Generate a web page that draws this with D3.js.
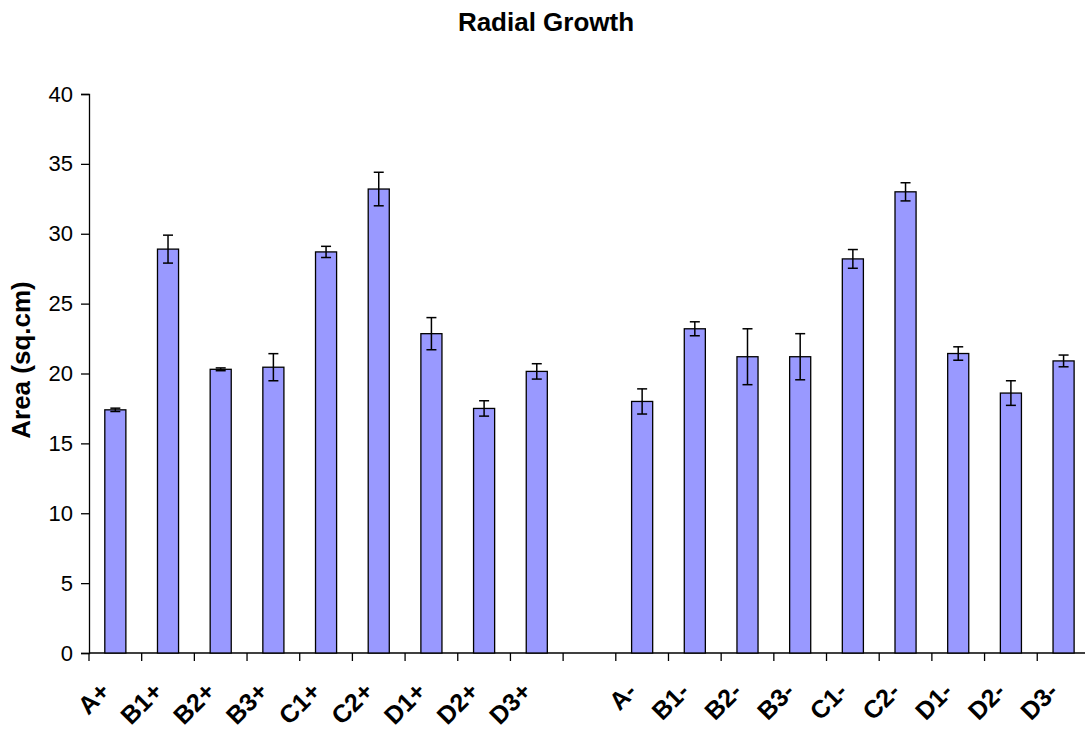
<!DOCTYPE html>
<html>
<head>
<meta charset="utf-8">
<script src="https://cdn.jsdelivr.net/npm/d3@7"></script>
<style>
  html, body { margin: 0; padding: 0; background: #fff; }
  svg { display: block; }
  text { font-family: "Liberation Sans", Arial, sans-serif; fill: #000; }
</style>
</head>
<body>
<svg id="chart" width="1085" height="732"></svg>
<script>
const categories = ["A+","B1+","B2+","B3+","C1+","C2+","D1+","D2+","D3+","","A-","B1-","B2-","B3-","C1-","C2-","D1-","D2-","D3-"];
const values     = [17.4, 28.9, 20.3, 20.45, 28.7, 33.2, 22.85, 17.5, 20.15, null, 18.0, 23.2, 21.2, 21.2, 28.2, 33.0, 21.43, 18.6, 20.9];
const errors     = [0.12, 1.0, 0.1, 0.97, 0.4, 1.2, 1.15, 0.55, 0.55, null, 0.9, 0.5, 2.0, 1.65, 0.67, 0.65, 0.48, 0.88, 0.42];
const yTicks     = [0, 5, 10, 15, 20, 25, 30, 35, 40];
const title = "Radial Growth";
const yLabel = "Area (sq.cm)";

const svg = d3.select("#chart");
const pLeft = 89, pRight = 89 + 19 * 52.68, pTop = 94, pBottom = 653;

const x = d3.scaleBand().domain(d3.range(categories.length)).range([pLeft, pRight]).paddingInner(0).paddingOuter(0);
const y = d3.scaleLinear().domain([0, 40]).range([pBottom, pTop]);
const bw = x.bandwidth() * 0.4;

// title
svg.append("text").attr("x", 546).attr("y", 31).attr("text-anchor", "middle")
  .style("font-size", "26px").style("font-weight", "bold").text(title);

// y axis
const yAxis = d3.axisLeft(y).tickValues(yTicks).tickSize(8).tickPadding(8).tickFormat(d3.format("d"));
const gy = svg.append("g").attr("transform", `translate(${pLeft},0)`).call(yAxis);
gy.select(".domain").attr("stroke", "#000").attr("stroke-width", 1.3);
gy.selectAll(".tick line").attr("stroke", "#000").attr("stroke-width", 1.3);
gy.selectAll(".tick text").style("font-size", "22px").style("font-family", "'Liberation Sans', Arial, sans-serif").attr("fill", "#000");

// y label
svg.append("text").attr("transform", `translate(30,360) rotate(-90)`)
  .attr("text-anchor", "middle").style("font-size", "26px").style("font-weight", "bold").text(yLabel);

// x axis line
svg.append("line").attr("x1", pLeft).attr("x2", pRight).attr("y1", pBottom).attr("y2", pBottom)
  .attr("stroke", "#000").attr("stroke-width", 1.3);
// x ticks at band boundaries
const boundaries = d3.range(categories.length + 1).map(i => i < categories.length ? x(i) : pRight);
svg.append("g").selectAll("line").data(boundaries).join("line")
  .attr("x1", d => d).attr("x2", d => d).attr("y1", pBottom).attr("y2", pBottom + 8)
  .attr("stroke", "#000").attr("stroke-width", 1.3);

// x labels
svg.append("g").selectAll("text").data(categories).join("text")
  .attr("transform", (d, i) => `translate(${x(i) + x.bandwidth() / 2 - 4},${693}) rotate(-45)`)
  .attr("text-anchor", "end")
  .style("font-size", "25px").style("font-weight", "bold").text(d => d);

// bars
const idx = d3.range(categories.length).filter(i => values[i] != null);
svg.append("g").selectAll("rect").data(idx).join("rect")
  .attr("x", i => x(i) + (x.bandwidth() - bw) / 2)
  .attr("y", i => y(values[i]))
  .attr("width", bw)
  .attr("height", i => y(0) - y(values[i]))
  .attr("fill", "#9999FF").attr("stroke", "#000").attr("stroke-width", 1.3);

// error bars
const eg = svg.append("g").attr("stroke", "#000").attr("stroke-width", 1.5);
idx.forEach(i => {
  const cx = x(i) + x.bandwidth() / 2;
  const hi = y(values[i] + errors[i]), lo = y(values[i] - errors[i]);
  eg.append("line").attr("x1", cx).attr("x2", cx).attr("y1", hi).attr("y2", lo);
  eg.append("line").attr("x1", cx - 5).attr("x2", cx + 5).attr("y1", hi).attr("y2", hi);
  eg.append("line").attr("x1", cx - 5).attr("x2", cx + 5).attr("y1", lo).attr("y2", lo);
});
</script>
</body>
</html>
